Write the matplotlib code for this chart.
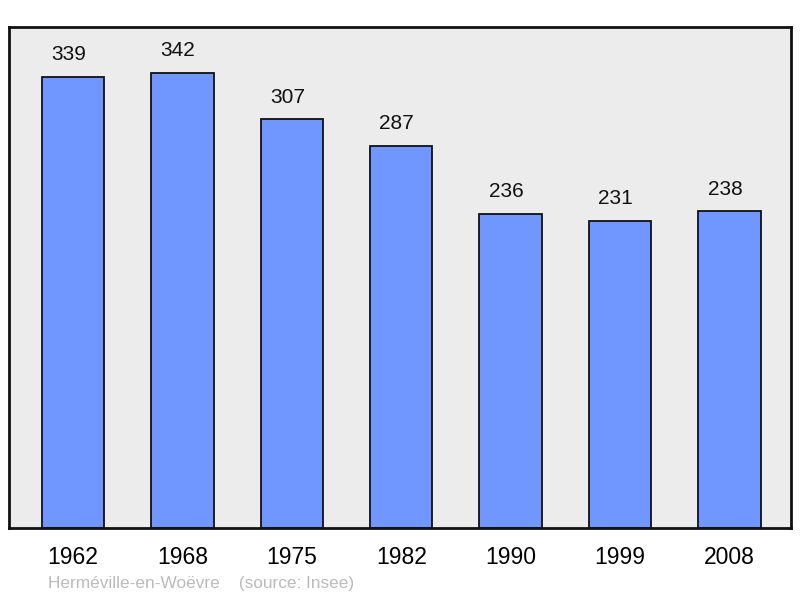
import matplotlib.pyplot as plt
import numpy as np

plt.rcParams['font.family'] = ['Liberation Sans', 'DejaVu Sans']

years = ['1962', '1968', '1975', '1982', '1990', '1999', '2008']
population = [339, 342, 307, 287, 236, 231, 238]

fig = plt.figure(figsize=(8, 5.98), dpi=100)
ax = fig.add_axes([0.01125, 0.117, 0.9775, 0.838])
ax.set_facecolor('#ececec')

x = np.arange(len(years))
ax.bar(x, population, width=0.57, color='#7096ff', edgecolor='#111111', linewidth=1.3, zorder=2)

for xi, v in zip(x, population):
    ax.text(xi - 0.04, v + 9.5, str(v), ha='center', va='bottom', fontsize=15, color='#111111')

ax.set_xlim(-0.585, 6.563)
ax.set_ylim(0, 376.5)
ax.set_xticks(x)
ax.set_xticklabels(years, fontsize=16.5)
ax.tick_params(axis='x', length=0, pad=13)
ax.set_yticks([])
for s in ax.spines.values():
    s.set_linewidth(2)
    s.set_color('#111111')

fig.text(0.06, 0.011, 'Herméville-en-Woëvre    (source: Insee)', fontsize=12.4, color='#bbbbbb', ha='left', va='bottom')

fig.savefig('out.png', dpi=100)
